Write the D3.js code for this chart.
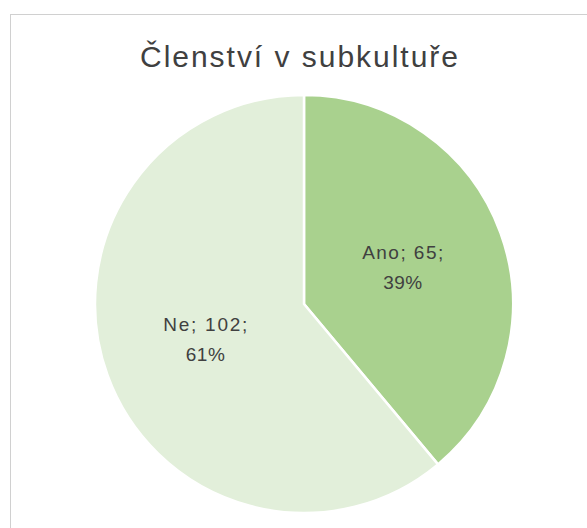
<!DOCTYPE html>
<html>
<head>
<meta charset="utf-8">
<script src="https://cdn.jsdelivr.net/npm/d3@7"></script>
<style>
  body { margin: 0; background: #fff; }
  svg { display: block; }
</style>
</head>
<body>
<svg id="chart"></svg>
<script>
// Členství v subkultuře — pie chart
const categories = ['Ano', 'Ne'];
const values = [65, 102];
const sliceColors = ['#a9d18e', '#e2efda'];
const titleText = 'Členství v subkultuře';

const width = 587;
const height = 528;
const cx = 304;
const cy = 304;
const radius = 209;

const svg = d3.select('#chart')
    .attr('width', width)
    .attr('height', height);

// chart frame (runs off the right and bottom edges)
svg.append('rect')
    .attr('x', 10.5)
    .attr('y', 14.5)
    .attr('width', 620)
    .attr('height', 560)
    .attr('fill', '#fff')
    .attr('stroke', '#d0d0d0')
    .attr('stroke-width', 1);

// title
svg.append('text')
    .attr('x', 299)
    .attr('y', 67)
    .attr('text-anchor', 'middle')
    .attr('font-family', 'Liberation Sans, Arial, sans-serif')
    .attr('font-size', 30)
    .attr('fill', '#404040')
    .attr('textLength', 318)
    .attr('lengthAdjust', 'spacing')
    .text(titleText);

const data = categories.map((c, i) => ({ label: c, value: values[i], color: sliceColors[i] }));
const total = d3.sum(values);
const pct = d3.format('.0%');

const pie = d3.pie().value((d) => d.value).sort(null);
const arc = d3.arc().innerRadius(0).outerRadius(radius);
const labelArc = d3.arc().innerRadius(105).outerRadius(105);

const g = svg.append('g').attr('transform', `translate(${cx}, ${cy})`);

const arcs = pie(data);

g.selectAll('path')
    .data(arcs)
    .enter()
    .append('path')
    .attr('d', arc)
    .attr('fill', (d) => d.data.color)
    .attr('stroke', '#fff')
    .attr('stroke-width', 2.5)
    .attr('stroke-linejoin', 'round');

// data labels: "Kategorie; hodnota;" / "procento"
const labels = g.selectAll('.label')
    .data(arcs)
    .enter()
    .append('text')
    .attr('class', 'label')
    .attr('text-anchor', 'middle')
    .attr('font-family', 'Liberation Sans, Arial, sans-serif')
    .attr('font-size', 19)
    .attr('fill', '#404040');

labels.append('tspan')
    .attr('x', (d) => labelArc.centroid(d)[0])
    .attr('y', (d) => labelArc.centroid(d)[1] - 9)
    .attr('textLength', (d) => (d.data.label === 'Ne' ? 84 : 81))
    .attr('lengthAdjust', 'spacing')
    .text((d) => `${d.data.label}; ${d.data.value};`);

labels.append('tspan')
    .attr('x', (d) => labelArc.centroid(d)[0])
    .attr('y', (d) => labelArc.centroid(d)[1] + 21)
    .attr('textLength', 39)
    .attr('lengthAdjust', 'spacing')
    .text((d) => pct(d.value / total));
</script>
</body>
</html>
